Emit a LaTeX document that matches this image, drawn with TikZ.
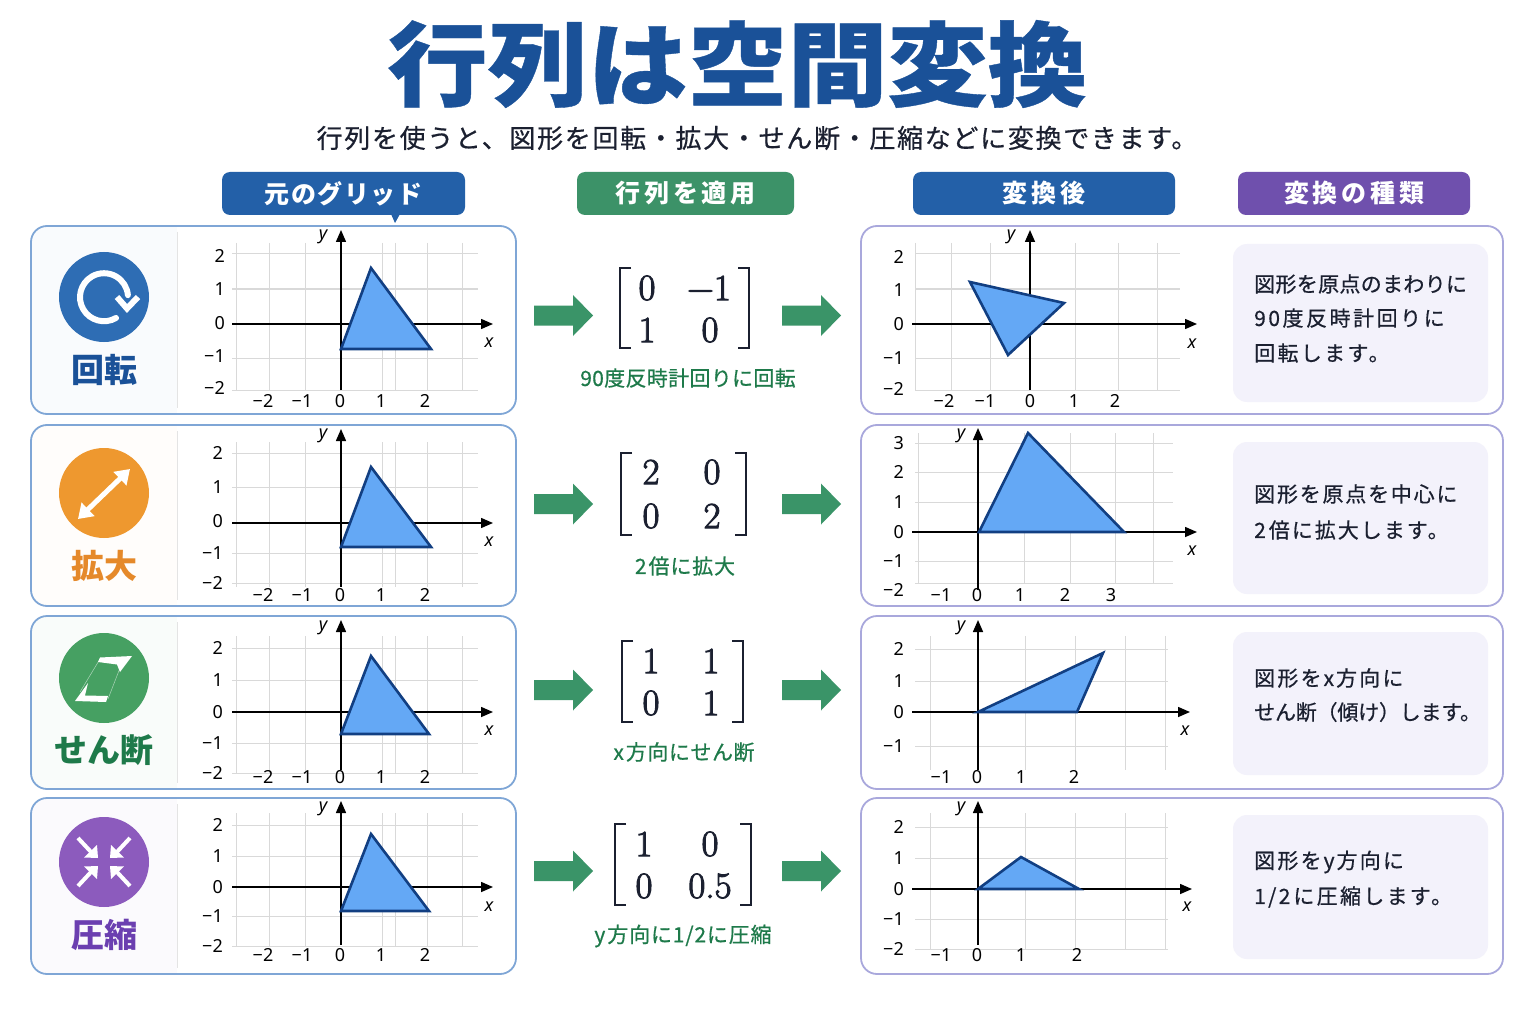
\documentclass[tikz,border=0pt]{standalone}
\usepackage{fontspec}
\usetikzlibrary{arrows.meta}
\newfontfamily\jp{Noto Sans CJK JP}
\newfontfamily\jpm{Noto Sans CJK JP}[FakeBold=0.6]
\newfontfamily\jptitle{Noto Sans CJK JP}[FakeBold=0.4]
\newfontfamily\numf{Noto Sans}
\newfontfamily\matf{Latin Modern Roman}[FakeBold=2.5]
\newcommand\lsp[1]{\addfontfeature{LetterSpace=#1}}
\definecolor{tblue}{HTML}{1A5198}
\definecolor{pblue}{HTML}{2360A8}
\definecolor{pgreen}{HTML}{3C9268}
\definecolor{ppurple}{HTML}{6F50AD}
\definecolor{iblue}{HTML}{2E6DB4}
\definecolor{iorange}{HTML}{EE982F}
\definecolor{igreen}{HTML}{46A062}
\definecolor{ipurple}{HTML}{8C5BBD}
\definecolor{lorange}{HTML}{E5892A}
\definecolor{lgreen}{HTML}{1E7A4A}
\definecolor{lpurple}{HTML}{6B3FB0}
\definecolor{cardl}{HTML}{7FA6D6}
\definecolor{cardr}{HTML}{A9A8DC}
\definecolor{gridc}{HTML}{D9D9D9}
\definecolor{trifill}{HTML}{64A8F5}
\definecolor{tristroke}{HTML}{123F82}
\definecolor{boxf}{HTML}{F3F2FB}
\definecolor{ink}{HTML}{1B2030}
\definecolor{arrowg}{HTML}{3A9468}
\tikzset{
  gridln/.style={draw=gridc,line width=1pt},
  axisln/.style={draw=black,line width=1.5pt,-{Triangle[width=10pt,length=12pt]}},
  trishape/.style={draw=tristroke,fill=trifill,line width=2.6pt,line join=miter},
  numlab/.style={font=\fontsize{18}{18}\numf,text=black,inner sep=0pt},
  axlab/.style={font=\fontsize{18}{18}\numf\itshape,text=black,inner sep=0pt},
  pill/.style={rounded corners=8pt,minimum height=43pt,inner sep=0pt,text=white,font=\fontsize{25}{25}\jp\bfseries},
  card/.style={rounded corners=16pt,line width=1.8pt,fill=white},
  descbox/.style={fill=boxf,rounded corners=14pt},
  desc/.style={font=\fontsize{21}{21}\jpm,text=ink,inner sep=0pt,anchor=west},
  caplab/.style={font=\fontsize{21}{21}\jpm,text=lgreen,inner sep=0pt},
  kindlab/.style={font=\fontsize{33}{33}\jp\bfseries,inner sep=0pt},
  matnum/.style={font=\fontsize{37}{37}\matf,text=ink,inner sep=0pt},
  brk/.style={draw=ink,line width=2.8pt,line join=miter},
  wline/.style={draw=white,line width=6pt},
}
\newcommand\ggrid[6]{%
  \foreach \v in {#1} \draw[gridln] (\v,#3) -- (\v,#4);
  \foreach \h in {#2} \draw[gridln] (#5,\h) -- (#6,\h);
}
\newcommand\gaxes[7]{% name ox oy xl xr ybottom ytop
  \coordinate (#1-xl) at (#4,#3);
  \coordinate (#1-xr) at (#5,#3);
  \coordinate (#1-yb) at (#2,#6);
  \coordinate (#1-yt) at (#2,#7);
  \draw[axisln] (#1-xl) -- (#1-xr);
  \draw[axisln] (#1-yb) -- (#1-yt);
}
\newcommand\gtri[4]{% name a b c
  \coordinate (#1-a) at (#2);
  \coordinate (#1-b) at (#3);
  \coordinate (#1-c) at (#4);
  \draw[trishape] (#1-a) -- (#1-b) -- (#1-c) -- cycle;
}
\newcommand\glabs[6]{%
  \foreach \t/\p [count=\i] in {#3} \node[numlab,anchor=east] (#1-yv\i) at (#2,\p) {\t};
  \foreach \t/\p [count=\i] in {#5} \node[numlab] (#1-xv\i) at (\p,#4) {\t};
  #6
}
\newcommand\xylab[5]{%
  \node[axlab] (#1-xname) at (#2,#3) {x};
  \node[axlab] (#1-yname) at (#4,#5) {y};
}
\newcommand\bigarrow[2]{%
  \fill[arrowg] (#1,#2-10) -- (#1+39,#2-10) -- (#1+39,#2-20.5) -- (#1+59,#2) -- (#1+39,#2+20.5) -- (#1+39,#2+10) -- (#1,#2+10) -- cycle;
}
\newcommand\bracks[4]{%
  \draw[brk] (#1+11,#3) -- (#1,#3) -- (#1,#4) -- (#1+11,#4);
  \draw[brk] (#2-11,#3) -- (#2,#3) -- (#2,#4) -- (#2-11,#4);
}
\newcommand\cardpair[4]{%
  \draw[card,draw=cardr] (861,#2) rectangle (1503,#3);
  \begin{scope}
    \clip[rounded corners=16pt] (31,#2) rectangle (516,#3);
    \fill[white] (31,#2) rectangle (516,#3);
    \fill[#4] (31,#2) rectangle (177,#3);
  \end{scope}
  \draw[rounded corners=16pt,line width=1.8pt,draw=cardl] (31,#2) rectangle (516,#3);
  \draw[draw=gridc!70,line width=1pt] (177,#2+6) -- (177,#3-6);
}
\begin{document}
\begin{tikzpicture}[x=1pt,y=-1pt]
\useasboundingbox (0,0) rectangle (1536,1024);
\fill[white] (0,0) rectangle (1536,1024);

% title
\node[inner sep=0pt,text=tblue,font=\fontsize{100}{100}\jptitle\bfseries] (title) at (737.5,64) {\scalebox{1}[0.92]{行列は空間変換}};
\node[inner sep=0pt,text=ink,font=\fontsize{26}{26}\jpm\lsp{6.5}] (subtitle) at (757,138) {行列を使うと、図形を回転・拡大・せん断・圧縮などに変換できます。};

% header pills
\fill[pblue] (391,214) -- (400,214) -- (395,223) -- cycle;
\node[pill,fill=pblue,minimum width=243pt] (h1) at (343.5,193.5) {\lsp{6}元のグリッド};
\node[pill,fill=pgreen,minimum width=217pt] (h2) at (685.5,193.5) {\lsp{15}行列を適用};
\node[pill,fill=pblue,minimum width=262pt] (h3) at (1044,193.5) {\lsp{15}変換後};
\node[pill,fill=ppurple,minimum width=232pt] (h4) at (1354,193.5) {\lsp{15}変換の種類};

% cards
\cardpair{r1}{226}{414}{iblue!3}
\cardpair{r2}{425}{606}{iorange!2}
\cardpair{r3}{616}{789}{igreen!3}
\cardpair{r4}{798}{974}{ipurple!3}

% description boxes
\fill[descbox] (1233,244) rectangle (1488,402);
\fill[descbox] (1233,442) rectangle (1488,594);
\fill[descbox] (1233,632) rectangle (1488,775);
\fill[descbox] (1233,815) rectangle (1488,959);

% icons
\fill[iblue] (104,297) circle[radius=45];
\draw[wline,line cap=round] (116,318) arc[start angle=60,end angle=355,radius=24];
\draw[draw=white,line width=6pt,line cap=butt,line join=miter] (117,297) -- (127,308.5) -- (138,297);
\node[kindlab,text=tblue] (k1) at (104,370) {回転};

\fill[iorange] (104,493) circle[radius=45];
\draw[draw=white,line width=5pt,{Triangle[width=18pt,length=14pt]}-{Triangle[width=18pt,length=14pt]}] (78,519) -- (130,469);
\node[kindlab,text=lorange] (k2) at (104,566) {拡大};

\fill[igreen] (104,678) circle[radius=45];
\draw[white,opacity=.55,line width=.5pt] (100,659) -- (80,692) (120,668) -- (108,699);
\fill[white] (100,657.5) -- (132,656) -- (120,672) -- (117,664.5) -- (98,662) -- cycle;
\fill[white] (75,701) -- (88,683) -- (85,695.5) -- (108,696) -- (106,702) -- cycle;
\node[kindlab,text=lgreen] (k3) at (104,750) {せん断};

\fill[ipurple] (104,862) circle[radius=45];
\foreach \sx/\sy in {1/1,-1/1,1/-1,-1/-1}{
  \begin{scope}[shift={(104,862)},xscale=\sx,yscale=\sy]
    \draw[white,line width=4pt] (12,9) -- (26,24);
    \fill[white] (6,4) -- (20,4.5) -- (7,17) -- cycle;
  \end{scope}
}
\node[kindlab,text=lpurple] (k4) at (104,935) {圧縮};

% left graphs
\ggrid{236,269,305,382,395,427,462}{254,289,358,390}{243}{390}{232}{478}
\gaxes{a}{341}{324}{232}{493}{390}{230}
\gtri{a}{341,349}{371,268}{431,349}
\glabs{a}{225}{2/256,1/289,0/323,−1/356,−2/388}{401}{−2/263,−1/302,0/340,1/381,2/425}{}
\xylab{a}{489}{343}{323}{237}

\ggrid{236,269,305,382,395,427,462}{453,487,553,583}{442}{587}{232}{478}
\gaxes{b}{341}{523}{232}{493}{587}{429}
\gtri{b}{341,547}{371,467}{431,547}
\glabs{b}{223}{2/453,1/487,0/521,−1/553,−2/583}{595}{−2/263,−1/302,0/340,1/381,2/425}{}
\xylab{b}{489}{542}{323}{436}

\ggrid{236,269,305,382,395,427,462}{648,680,743,773}{636}{773}{232}{478}
\gaxes{c}{341}{712}{232}{493}{770}{620}
\gtri{c}{341,734}{371,656}{429,734}
\glabs{c}{223}{2/648,1/680,0/712,−1/743,−2/773}{777}{−2/263,−1/302,0/340,1/381,2/425}{}
\xylab{c}{489}{731}{323}{628}

\ggrid{236,269,305,382,395,427,462}{825,856,916,946}{813}{946}{232}{478}
\gaxes{d}{341}{887}{232}{493}{945}{801}
\gtri{d}{341,911}{371,834}{429,911}
\glabs{d}{223}{2/825,1/856,0/887,−1/916,−2/946}{955}{−2/263,−1/302,0/340,1/381,2/425}{}
\xylab{d}{489}{907}{323}{809}

% right graphs
\ggrid{915,951,990,1075,1118,1157}{254,289,358,390}{243}{390}{915}{1180}
\gaxes{e}{1030}{324}{912}{1197}{390}{230}
\gtri{e}{970,282}{1064,303}{1008,355}
\glabs{e}{904}{2/257,1/290,0/324,−1/358,−2/389}{401}{−2/944,−1/985,0/1030,1/1074,2/1115}{}
\xylab{e}{1192}{344}{1011}{237}

\ggrid{918,1024,1070,1115,1153}{443,472,502,561,583}{433}{583}{915}{1173}
\gaxes{f}{978}{532}{912}{1197}{590}{428}
\gtri{f}{979,532}{1028,433}{1124,532}
\glabs{f}{904}{3/443,2/472,1/502,0/532,−1/561,−2/590}{595}{−1/941,0/977,1/1020,2/1065,3/1111}{}
\xylab{f}{1192}{551}{961}{436}

\ggrid{930,1025,1075,1125,1165}{649,681,746}{636}{770}{915}{1168}
\gaxes{g}{978}{712}{912}{1190}{770}{620}
\gtri{g}{978,712}{1103,653}{1077,712}
\glabs{g}{904}{2/649,1/681,0/712,−1/746}{777}{−1/941,0/977,1/1021,2/1074}{}
\xylab{g}{1185}{731}{961}{628}

\ggrid{930,1025,1075,1125,1165}{827,858,919,949}{813}{949}{915}{1168}
\gaxes{h}{978}{889}{912}{1192}{945}{801}
\gtri{h}{978,889}{1021,857}{1079,889}
\glabs{h}{904}{2/827,1/858,0/889,−1/919,−2/949}{955}{−1/941,0/977,1/1021,2/1077}{}
\xylab{h}{1187}{907}{961}{809}

% arrows
\bigarrow{534}{315.5}\bigarrow{782}{315.5}
\bigarrow{534}{504}\bigarrow{782}{504}
\bigarrow{534}{690}\bigarrow{782}{690}
\bigarrow{534}{871}\bigarrow{782}{871}

% matrices
\bracks{620}{749}{268}{348}
\node[matnum] (m1a) at (647,288) {0};
\node[matnum] (m1b) at (709,288) {−1};
\node[matnum] (m1c) at (647,330) {1};
\node[matnum] (m1d) at (710,330) {0};
\node[caplab] (c1) at (688,378) {\lsp{1.5}90度反時計回りに回転};

\bracks{621}{746}{453}{535}
\node[matnum] (m2a) at (651,472) {2};
\node[matnum] (m2b) at (712,472) {0};
\node[matnum] (m2c) at (651,516) {0};
\node[matnum] (m2d) at (712,516) {2};
\node[caplab] (c2) at (685,566) {\lsp{4}2\kern2pt 倍に拡大};

\bracks{622}{743}{641}{722}
\node[matnum] (m3a) at (651,661) {1};
\node[matnum] (m3b) at (711,661) {1};
\node[matnum] (m3c) at (651,703) {0};
\node[matnum] (m3d) at (711,703) {1};
\node[caplab] (c3) at (684,752) {\lsp{2.5}x\kern2pt 方向にせん断};

\bracks{615}{751}{824}{905}
\node[matnum] (m4a) at (644,844) {1};
\node[matnum] (m4b) at (710,844) {0};
\node[matnum] (m4c) at (644,886) {0};
\node[matnum] (m4d) at (710,886) {0.5};
\node[caplab] (c4) at (683,936) {\lsp{4}y\kern2pt 方向に1/2に圧縮};

% descriptions
\node[desc] (d1a) at (1254,284) {\lsp{1.5}図形を原点のまわりに};
\node[desc] (d1b) at (1254,318) {\lsp{12}90度反時計回りに};
\node[desc] (d1c) at (1254,353) {\lsp{11}回転します。};
\node[desc] (d2a) at (1254,494) {\lsp{8.5}図形を原点を中心に};
\node[desc] (d2b) at (1254,530) {\lsp{9.5}2\kern3pt 倍に拡大します。};
\node[desc] (d3a) at (1254,678) {\lsp{10.5}図形を\kern2pt x\kern2pt 方向に};
\node[desc] (d3b) at (1254,712) {\lsp{-1}せん断（傾け）します。};
\node[desc] (d4a) at (1254,862) {\lsp{10.5}図形を\kern2pt y\kern2pt 方向に};
\node[desc] (d4b) at (1254,897) {\lsp{11}1/2\kern3pt に圧縮します。};
\end{tikzpicture}
\end{document}
